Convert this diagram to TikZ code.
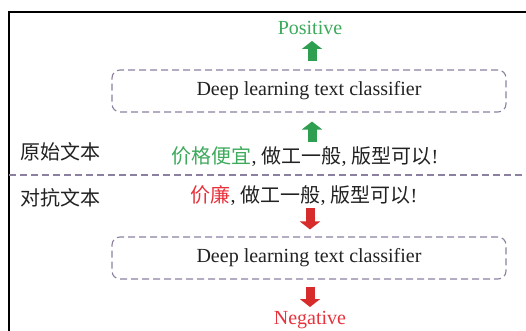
\documentclass[tikz,border=0pt]{standalone}
\usepackage{fontspec}
\setmainfont{Liberation Serif}
\newfontfamily\cjk{Noto Sans CJK SC}
\usetikzlibrary{arrows.meta,calc}
\definecolor{tgreen}{HTML}{3DAA5C}
\definecolor{agreen}{HTML}{2E9E50}
\definecolor{tred}{HTML}{E8323C}
\definecolor{ared}{HTML}{D62C2C}
\definecolor{dashc}{HTML}{8C80A0}
\definecolor{ink}{HTML}{222222}
\begin{document}
\begin{tikzpicture}[x=1pt,y=-1pt,
  every node/.style={font=\fontsize{20}{24}\selectfont, text=ink, inner sep=0pt},
  frameline/.style={draw=black, line width=1.6pt},
  divline/.style={draw=dashc, line width=1.1pt, dash pattern=on 7pt off 4pt},
  clsbox/.style={draw=dashc, line width=1.1pt, dash pattern=on 7pt off 4pt, rounded corners=8pt, minimum width=394pt, minimum height=42pt},
  garrow/.style={draw=agreen, line width=9pt, -{Triangle[width=20pt,length=8pt]}},
  rarrow/.style={draw=ared, line width=9pt, -{Triangle[width=20pt,length=8pt]}}
]
\useasboundingbox (0,0) rectangle (526,331);
\fill[white] (0,0) rectangle (526,331);
\draw[frameline] (9,331) -- (9,12) -- (526,12);
\draw[divline] (9,175) -- (526,175);

\node (pos) at (310,28) {\textcolor{tgreen}{Positive}};
\node[clsbox] (c1) at (309,91) {Deep learning text classifier};
\node (s1) at (305,157) {{\cjk\color{tgreen}价格便宜}, {\cjk 做工一般}, {\cjk 版型可以}!};
\node (l1) at (60,152) {\cjk 原始文本};
\node (l2) at (60,198) {\cjk 对抗文本};
\node (s2) at (304,196) {{\cjk\color{tred}价廉}, {\cjk 做工一般}, {\cjk 版型可以}!};
\node[clsbox] (c2) at (309,258) {Deep learning text classifier};
\node (neg) at (310,320) {\textcolor{tred}{Negative}};

\draw[garrow] ($(c1.north)+(3,-8)$) -- ($(pos.center)+(2,13)$);
\draw[garrow] ($(s1.center)+(7,-15)$) -- ($(c1.south)+(3,9)$);
\draw[rarrow] ($(s2.center)+(6,12)$) -- ($(c2.north)+(1,-7)$);
\draw[rarrow] ($(c2.south)+(1,7)$) -- ($(neg.center)+(0,-13)$);
\end{tikzpicture}
\end{document}
